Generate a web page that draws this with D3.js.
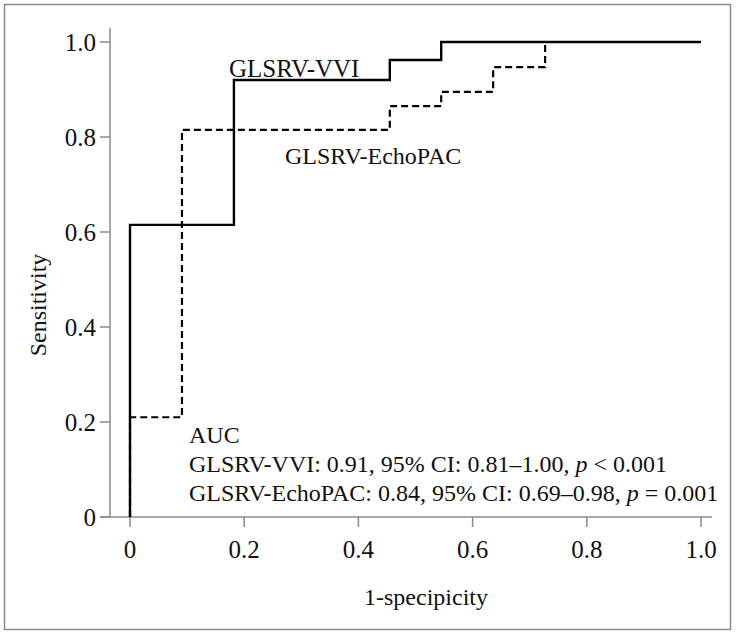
<!DOCTYPE html>
<html><head><meta charset="utf-8">
<script src="https://cdn.jsdelivr.net/npm/d3@7"></script>
<style>body{margin:0;background:#fff}svg{display:block}</style>
</head><body><svg id="c" width="736" height="635"></svg>
<script>
// 1-specificity (x) and sensitivity (y) step points
const vviX = [0, 0, 0.182, 0.182, 0.455, 0.455, 0.545, 0.545, 1.0];
const vviY = [0, 0.615, 0.615, 0.92, 0.92, 0.962, 0.962, 1.0, 1.0];
const echoX = [0, 0, 0.091, 0.091, 0.455, 0.455, 0.545, 0.545, 0.636, 0.636, 0.727, 0.727, 1.0];
const echoY = [0, 0.21, 0.21, 0.815, 0.815, 0.865, 0.865, 0.895, 0.895, 0.947, 0.947, 1.0, 1.0];
const tickVals = [0, 0.2, 0.4, 0.6, 0.8, 1.0];
const tickLabels = ["0", "0.2", "0.4", "0.6", "0.8", "1.0"];
const aucLines = [
  ["AUC"],
  ["GLSRV-VVI: 0.91, 95% CI: 0.81–1.00, ", "p", " < 0.001"],
  ["GLSRV-EchoPAC: 0.84, 95% CI: 0.69–0.98, ", "p", " = 0.001"]
];

const svg = d3.select("#c");
const font = "'Liberation Serif', 'DejaVu Serif', serif";
const axisCol = "#8a8a8a";
const x = d3.scaleLinear().domain([0, 1]).range([130, 701]);
const y = d3.scaleLinear().domain([0, 1]).range([517, 42]);

// frame
svg.append("rect").attr("x", 4.5).attr("y", 4.5).attr("width", 726).attr("height", 625)
  .attr("fill", "none").attr("stroke", axisCol).attr("stroke-width", 1.5);

// axes
svg.append("line").attr("x1", 110).attr("x2", 110).attr("y1", 28).attr("y2", y(0))
  .attr("stroke", axisCol).attr("stroke-width", 1.5);
svg.append("line").attr("x1", 100).attr("x2", 712).attr("y1", y(0)).attr("y2", y(0))
  .attr("stroke", axisCol).attr("stroke-width", 1.5);

tickVals.forEach((v, i) => {
  svg.append("line").attr("x1", 100).attr("x2", 110).attr("y1", y(v)).attr("y2", y(v))
    .attr("stroke", axisCol).attr("stroke-width", 1.5);
  svg.append("text").attr("x", 96).attr("y", y(v)).attr("dy", "0.35em")
    .attr("text-anchor", "end").attr("font-family", font).attr("font-size", 25)
    .attr("fill", "#111").text(tickLabels[i]);
  svg.append("line").attr("x1", x(v)).attr("x2", x(v)).attr("y1", y(0)).attr("y2", y(0) + 10)
    .attr("stroke", axisCol).attr("stroke-width", 1.5);
  svg.append("text").attr("x", x(v)).attr("y", 558)
    .attr("text-anchor", "middle").attr("font-family", font).attr("font-size", 25)
    .attr("fill", "#111").text(tickLabels[i]);
});

svg.append("text").attr("transform", "translate(46,305) rotate(-90)")
  .attr("text-anchor", "middle").attr("font-family", font).attr("font-size", 24)
  .attr("fill", "#111").text("Sensitivity");
svg.append("text").attr("x", 426).attr("y", 605)
  .attr("text-anchor", "middle").attr("font-family", font).attr("font-size", 24)
  .attr("fill", "#111").text("1-specipicity");

// curves
const line = d3.line().x(d => x(d[0])).y(d => y(d[1]));
svg.append("path").datum(echoX.map((v, i) => [v, echoY[i]])).attr("d", line)
  .attr("fill", "none").attr("stroke", "#000").attr("stroke-width", 2.2)
  .attr("stroke-dasharray", "7,4");
svg.append("path").datum(vviX.map((v, i) => [v, vviY[i]])).attr("d", line)
  .attr("fill", "none").attr("stroke", "#000").attr("stroke-width", 2.4);

// labels
svg.append("text").attr("x", 229).attr("y", 77).attr("font-family", font).attr("font-size", 25)
  .attr("fill", "#111").text("GLSRV-VVI");
svg.append("text").attr("x", 285).attr("y", 164).attr("font-family", font).attr("font-size", 24)
  .attr("fill", "#111").text("GLSRV-EchoPAC");

aucLines.forEach((parts, i) => {
  const t = svg.append("text").attr("x", 189).attr("y", 443 + i * 29)
    .attr("font-family", font).attr("font-size", 24).attr("fill", "#111");
  parts.forEach(p => {
    t.append("tspan").attr("font-style", p === "p" ? "italic" : null).text(p);
  });
});
</script></body></html>
